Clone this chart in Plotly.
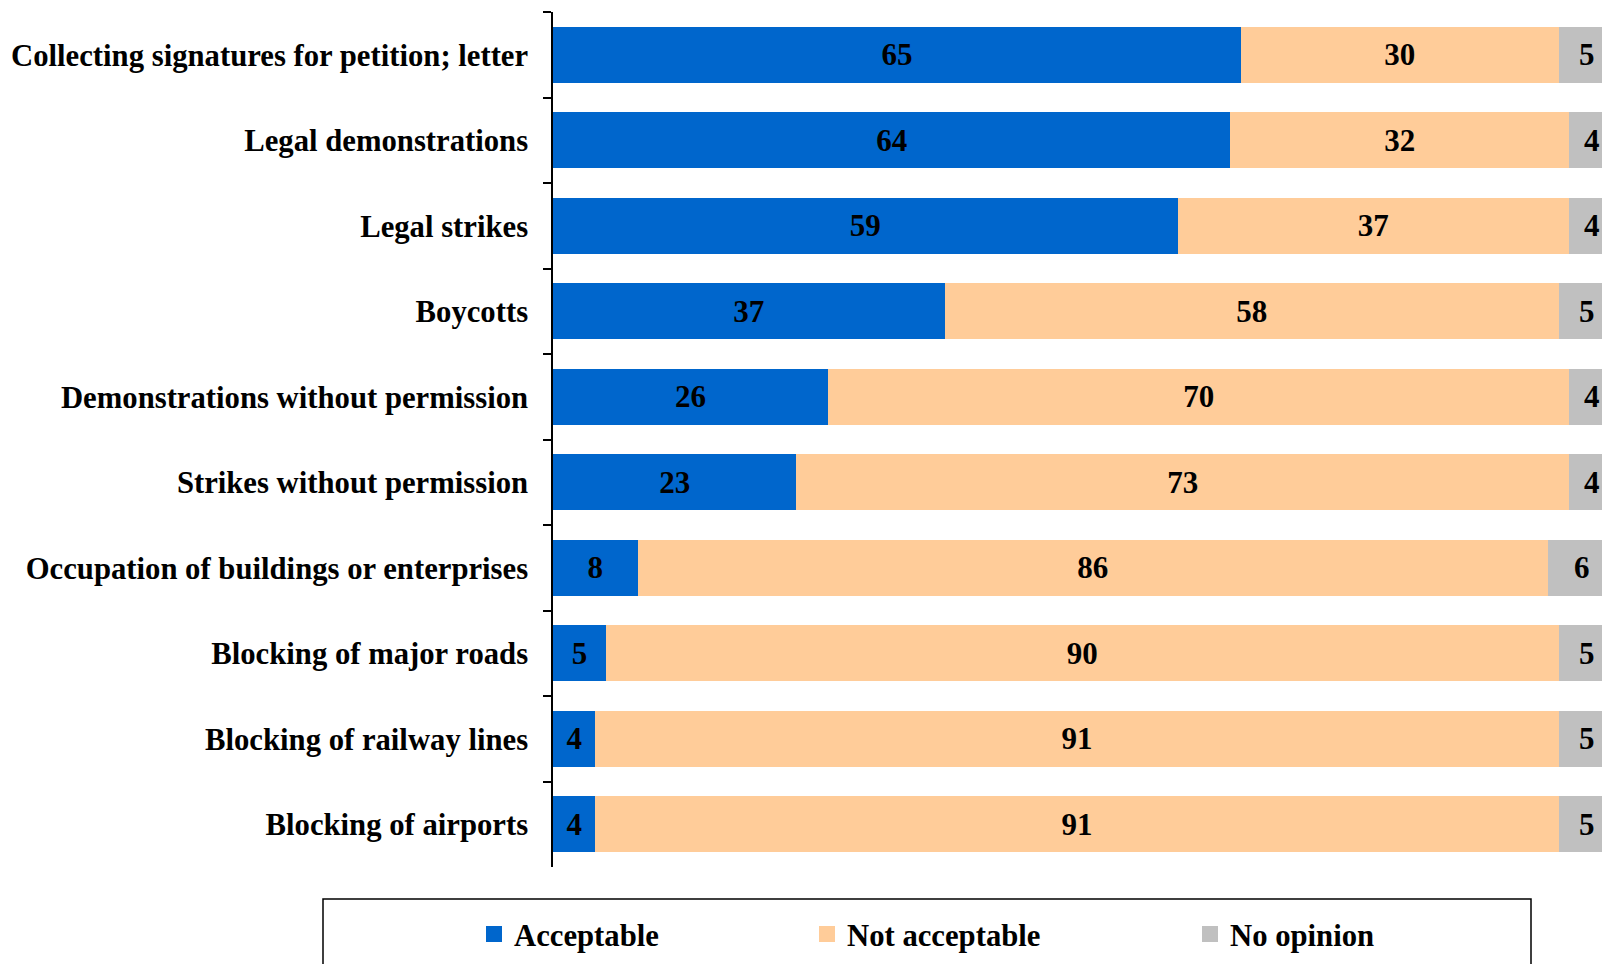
import plotly.graph_objects as go

categories = [
    "Collecting signatures for petition; letter",
    "Legal demonstrations",
    "Legal strikes",
    "Boycotts",
    "Demonstrations without permission",
    "Strikes without permission",
    "Occupation of buildings or enterprises",
    "Blocking of major roads",
    "Blocking of railway lines",
    "Blocking of airports",
]
acceptable = [65, 64, 59, 37, 26, 23, 8, 5, 4, 4]
not_acceptable = [30, 32, 37, 58, 70, 73, 86, 90, 91, 91]
no_opinion = [5, 4, 4, 5, 4, 4, 6, 5, 5, 5]

series_names = ["Acceptable", "Not acceptable", "No opinion"]
series_values = [acceptable, not_acceptable, no_opinion]
colors = ["#0066CC", "#FFCC99", "#C0C0C0"]

FONT = "Liberation Serif, Times New Roman, serif"
W, H = 1602, 964
legend_text_px = [515, 848, 1231]
label_font = dict(family=FONT, size=31, color="black", weight="bold")

fig = go.Figure()
for i, (name, vals, col) in enumerate(zip(series_names, series_values, colors)):
    lg = "legend" if i == 0 else f"legend{i+1}"
    last = i == len(series_names) - 1
    fig.add_trace(go.Bar(
        y=categories, x=vals, name=name, orientation="h",
        marker=dict(color=col, line=dict(width=0)),
        text=None if last else vals,
        texttemplate=None if last else "%{text}",
        textposition="none" if last else "inside",
        insidetextanchor="middle", textangle=0, constraintext="none",
        textfont=label_font,
        showlegend=False, cliponaxis=False,
    ))
    # legend entry with a larger square swatch
    fig.add_trace(go.Scatter(
        x=[None], y=[None], mode="markers", name=name,
        marker=dict(symbol="square", size=16, color=col, line=dict(width=0)),
        legend=lg, showlegend=True, hoverinfo="skip",
    ))

# labels of the last (partly cropped) segment, centred on the segment
mid_last = [a + n + o / 2 for a, n, o in zip(acceptable, not_acceptable, no_opinion)]
annotations = [
    dict(x=xm, y=cat, xref="x", yref="y", text=str(v), showarrow=False,
         font=label_font, xanchor="center", yanchor="middle", xshift=2, yshift=0)
    for xm, cat, v in zip(mid_last, categories, no_opinion)
]

legend_common = dict(
    orientation="h", xref="container", yref="container",
    xanchor="left", yanchor="middle", y=1 - 934 / H,
    font=dict(family=FONT, size=30.7, color="black", weight="bold"),
    bgcolor="rgba(0,0,0,0)", borderwidth=0,
)
legends = {}
for i, tx in enumerate(legend_text_px):
    key = "legend" if i == 0 else f"legend{i+1}"
    legends[key] = dict(legend_common, x=(tx - 41) / W)

fig.update_layout(
    width=W, height=H,
    barmode="stack", bargap=0.345,
    plot_bgcolor="white", paper_bgcolor="white",
    margin=dict(l=553, r=0, t=12, b=97),
    showlegend=True,
    xaxis=dict(range=[0, 99.1], visible=False, fixedrange=True),
    yaxis=dict(
        autorange="reversed", tickson="boundaries", ticks="outside",
        ticklen=8, tickwidth=1.5, tickcolor="black",
        showline=True, linecolor="black", linewidth=1.5,
        showgrid=False, ticklabelstandoff=17,
        tickfont=dict(family=FONT, size=30.7, color="black", weight="bold"),
    ),
    shapes=[dict(
        type="rect", xref="paper", yref="paper",
        x0=(323 - 553) / 1049, x1=(1531 - 553) / 1049,
        y0=-0.3, y1=-(899 - 867) / 855,
        line=dict(color="black", width=1.5), fillcolor="rgba(0,0,0,0)",
    )],
    annotations=annotations,
    **legends,
)

fig.write_html(
    "out.html",
    config={"displayModeBar": False},
    post_script="document.body.style.margin='0';document.body.style.overflow='hidden';",
)
